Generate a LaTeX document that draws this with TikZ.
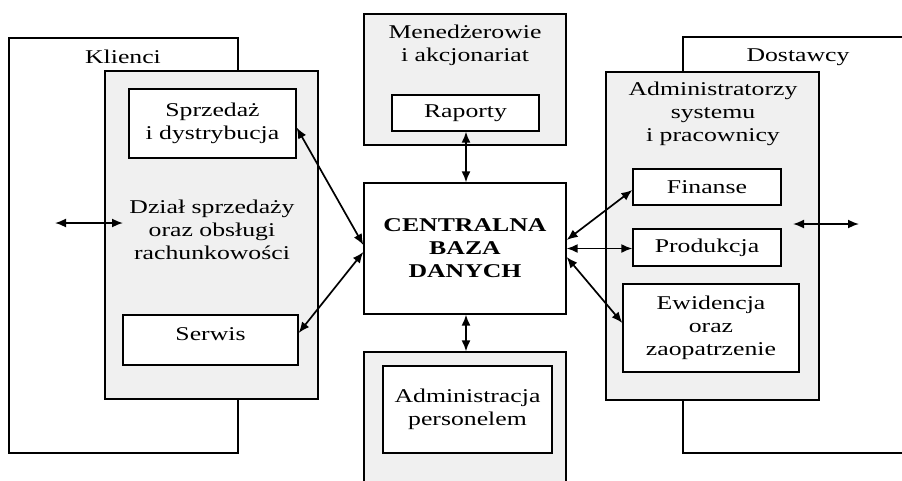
\documentclass[tikz,border=0pt]{standalone}
\usepackage{fontspec}
\setmainfont{Liberation Serif}[FakeStretch=1.32]
\usepackage{tikz}
\usetikzlibrary{arrows.meta, calc}
\definecolor{panelgray}{RGB}{240,240,240}
\tikzset{
	outerbox/.style={rectangle, draw, line width=1.3pt, fill=white, inner sep=0pt},
	graybox/.style={rectangle, draw, line width=1.3pt, fill=panelgray, inner sep=0pt},
	unitbox/.style={rectangle, draw, line width=1.3pt, fill=white, align=center, inner sep=0pt},
	txt/.style={align=center, inner sep=0pt},
	link/.style={{Latex[length=11pt,width=9pt]}-{Latex[length=11pt,width=9pt]}, line width=1.7pt}
}

\begin{document}
\begin{tikzpicture}[x=1pt, y=-1pt, font=\fontsize{19.5}{23}\selectfont]
	\useasboundingbox (0,0) rectangle (902,480);
	\clip (0,0) rectangle (902,480);
	\begin{scope}
		\node[outerbox, minimum width=229pt, minimum height=415pt] (K) at (123.5,245.5) {};
		\node[txt] (Kl) at (123,57) {Klienci};
		\node[graybox, minimum width=213pt, minimum height=328pt] (D) at (211.5,235) {};
		\node[txt] (Dl) at (212,230) {Dział sprzedaży\\oraz obsługi\\rachunkowości};
		\node[unitbox, minimum width=167pt, minimum height=69pt] (S) at (212.5,123.5) {Sprzedaż\\i dystrybucja};
		\node[unitbox, minimum width=175pt, minimum height=50pt] (Se) at (210.5,340) {};
		\node[txt] (Sel) at (210.5,334) {Serwis};
		\coordinate (K1) at (55,223);
		\coordinate (K2) at (123,223);
		\draw[link] (K1) -- (K2);
	\end{scope}
	\begin{scope}
		\node[graybox, minimum width=202pt, minimum height=131pt] (M) at (465,79.5) {};
		\node[txt] (Ml) at (465,45) {Menedżerowie\\i akcjonariat};
		\node[unitbox, minimum width=147pt, minimum height=36pt] (R) at (465.5,113) {Raporty};
		\node[unitbox, minimum width=202pt, minimum height=131pt, font=\fontsize{19.5}{23}\selectfont\bfseries] (C) at (465,248.5) {CENTRALNA\\BAZA\\DANYCH};
		\node[graybox, minimum width=202pt, minimum height=148pt] (P) at (465,426) {};
		\node[unitbox, minimum width=169pt, minimum height=87pt] (A) at (467.5,409.5) {Administracja\\personelem};
		\draw[link] (R.south -| 466,0) -- (C.north -| 466,0);
		\draw[link] (C.south -| 466,0) -- (P.north -| 466,0);
	\end{scope}
	\begin{scope}
		\node[outerbox, minimum width=247pt, minimum height=416pt] (O) at (806.5,245) {};
		\node[txt] (Ol) at (798,57) {Dostawcy};
		\node[graybox, minimum width=213pt, minimum height=328pt] (W) at (712.5,236) {};
		\node[txt] (Wl) at (713,114) {Administratorzy\\systemu\\i pracownicy};
		\node[unitbox, minimum width=148pt, minimum height=36pt] (F) at (707,187) {Finanse};
		\node[unitbox, minimum width=148pt, minimum height=37pt] (Pr) at (707,247.5) {Produkcja};
		\node[unitbox, minimum width=176pt, minimum height=88pt] (E) at (711,328) {Ewidencja\\oraz\\zaopatrzenie};
		\coordinate (O1) at (793,224);
		\coordinate (O2) at (859,224);
		\draw[link] (O1) -- (O2);
	\end{scope}
	\draw[link] ([yshift=-4pt]S.east) -- ([yshift=3.5pt]C.west);
	\draw[link] ([yshift=7pt]Se.east) -- ([yshift=-3.5pt]C.west);
	\draw[link] ([yshift=8.5pt]C.east) -- ([yshift=-3pt]F.west);
	\draw[link] (C.east) -- (C.east -| Pr.west);
	\draw[link] ([yshift=-8.5pt]C.east) -- ([yshift=5pt]E.west);
\end{tikzpicture}
\end{document}
